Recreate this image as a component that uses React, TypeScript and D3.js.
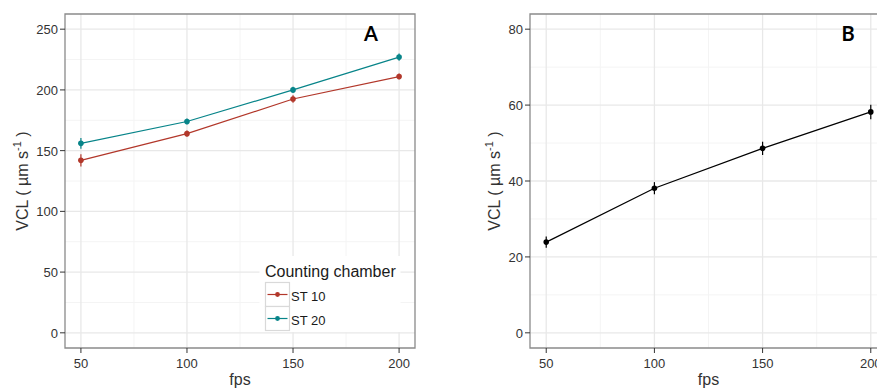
import React from "react";
import * as d3 from "d3";

const fps = [50, 100, 150, 200];
const st10 = [142, 164, 192.5, 211];
const st10Err = [5, 2.5, 3, 2.5];
const st20 = [156, 174, 200, 227];
const st20Err = [4.5, 2.5, 2.5, 3];
const panelB = [23.9, 38.1, 48.6, 58.2];
const panelBErr = [1.5, 1.6, 1.75, 1.9];
const ticksA = [0, 50, 100, 150, 200, 250];
const minorA = [25, 75, 125, 175, 225];
const ticksB = [0, 20, 40, 60, 80];
const minorB = [10, 30, 50, 70];
const minorX = [75, 125, 175];
const legendTitle = "Counting chamber";
const seriesNames = ["ST 10", "ST 20"];
const RED = "#b2372a";
const TEAL = "#078489";

type Series = { vals: number[]; err: number[]; color: string };

const FONT = "'Liberation Sans', Arial, sans-serif";

function Panel(props: {
  left: number;
  right: number;
  yDomain: [number, number];
  ticks: number[];
  minor: number[];
  series: Series[];
  tag: string;
  tagX: number;
  drawRight: boolean;
  legend?: boolean;
}) {
  const { left, right, yDomain, ticks, minor, series, tag, tagX, drawRight, legend } = props;
  const top = 14;
  const bottom = 348;
  const x = d3.scaleLinear().domain([42.5, 207.5]).range([left, right]);
  const y = d3.scaleLinear().domain(yDomain).range([bottom, top]);
  const line = d3
    .line<number>()
    .x((_, i) => x(fps[i]))
    .y((v) => y(v));
  const labelX = left - 37 + (ticks[ticks.length - 1] >= 100 ? 0 : 7);
  const cy = (top + bottom) / 2;
  const cx = (left + right) / 2;
  return (
    <g>
      <defs>
        <clipPath id={"clip" + tag}>
          <rect x={left} y={top} width={right - left} height={bottom - top} />
        </clipPath>
      </defs>
      <rect x={left} y={top} width={right - left} height={bottom - top} fill="#fff" />
      {minor.map((t) => (
        <line key={"mh" + t} x1={left} x2={right} y1={y(t)} y2={y(t)} stroke="#f4f4f4" strokeWidth={1} />
      ))}
      {minorX.map((t) => (
        <line key={"mv" + t} x1={x(t)} x2={x(t)} y1={top} y2={bottom} stroke="#f4f4f4" strokeWidth={1} />
      ))}
      {ticks.map((t) => (
        <line key={"h" + t} x1={left} x2={right} y1={y(t)} y2={y(t)} stroke="#e8e8e8" strokeWidth={1.3} />
      ))}
      {fps.map((t) => (
        <line key={"v" + t} x1={x(t)} x2={x(t)} y1={top} y2={bottom} stroke="#e8e8e8" strokeWidth={1.3} />
      ))}
      {legend && (
        <g>
          <rect x={259.5} y={256} width={141} height={76} fill="#fff" />
          <text x={265} y={277} fontFamily={FONT} fontSize={16} fill="#1a1a1a">
            {legendTitle}
          </text>
          {series.map((s, i) => (
            <g key={"lg" + i}>
              <rect x={265.5} y={282.5 + i * 24} width={24} height={24} fill="#fff" stroke="#d9d9d9" strokeWidth={1.2} />
              <line x1={267.5} x2={287.5} y1={294.5 + i * 24} y2={294.5 + i * 24} stroke={s.color} strokeWidth={1.2} />
              <circle cx={277.5} cy={294.5 + i * 24} r={2.4} fill={s.color} />
              <text x={291} y={301 + i * 24} fontFamily={FONT} fontSize={13} fill="#1a1a1a">
                {seriesNames[i]}
              </text>
            </g>
          ))}
        </g>
      )}
      <g clipPath={`url(#clip${tag})`}>
        {series.map((s, si) => (
          <g key={"s" + si}>
            <path d={line(s.vals) || ""} fill="none" stroke={s.color} strokeWidth={1.2} />
            {s.vals.map((v, i) => (
              <line
                key={"e" + i}
                x1={x(fps[i])}
                x2={x(fps[i])}
                y1={y(v - s.err[i])}
                y2={y(v + s.err[i])}
                stroke={s.color}
                strokeWidth={1.2}
              />
            ))}
            {s.vals.map((v, i) => (
              <circle key={"p" + i} cx={x(fps[i])} cy={y(v)} r={2.8} fill={s.color} />
            ))}
          </g>
        ))}
      </g>
      <path
        d={
          drawRight
            ? `M${left},${top}H${right}V${bottom}H${left}Z`
            : `M${right + 10},${top}H${left}V${bottom}H${right + 10}`
        }
        fill="none"
        stroke="#8a8a8a"
        strokeWidth={1.3}
      />
      {ticks.map((t) => (
        <g key={"yt" + t}>
          <line x1={left - 5} x2={left} y1={y(t)} y2={y(t)} stroke="#333" strokeWidth={1} />
          <text x={left - 7} y={y(t) + 5} textAnchor="end" fontFamily={FONT} fontSize={13} fill="#333">
            {t}
          </text>
        </g>
      ))}
      {fps.map((t) => (
        <g key={"xt" + t}>
          <line x1={x(t)} x2={x(t)} y1={bottom} y2={bottom + 5} stroke="#333" strokeWidth={1} />
          <text x={x(t)} y={368} textAnchor="middle" fontFamily={FONT} fontSize={13} fill="#333">
            {t}
          </text>
        </g>
      ))}
      <text x={cx} y={385} textAnchor="middle" fontFamily={FONT} fontSize={16} fill="#333">
        fps
      </text>
      <text
        transform={`translate(${labelX},${cy}) rotate(-90)`}
        textAnchor="middle"
        fontFamily={FONT}
        fontSize={16}
        fill="#333"
      >
        <tspan>VCL ( µm s</tspan>
        <tspan fontSize={11} dy={-7}>-1</tspan>
        <tspan dy={7}> )</tspan>
      </text>
      <text x={tagX} y={40.5} textAnchor="middle" fontFamily="Lato, 'Open Sans', sans-serif" fontWeight={700} fontSize={20} fill="#000">
        {tag}
      </text>
    </g>
  );
}

export default function App() {
  return (
    <svg
      width={877}
      height={392}
      style={{ position: "absolute", left: 0, top: 0, background: "#fff" }}
    >
      <rect x={0} y={0} width={877} height={392} fill="#fff" />
      <Panel
        left={65}
        right={415}
        yDomain={[-12.5, 262.5]}
        ticks={ticksA}
        minor={minorA}
        series={[
          { vals: st10, err: st10Err, color: RED },
          { vals: st20, err: st20Err, color: TEAL },
        ]}
        tag="A"
        tagX={371}
        drawRight={true}
        legend={true}
      />
      <Panel
        left={530}
        right={887}
        yDomain={[-4, 84]}
        ticks={ticksB}
        minor={minorB}
        series={[{ vals: panelB, err: panelBErr, color: "#000" }]}
        tag="B"
        tagX={848}
        drawRight={false}
      />
    </svg>
  );
}
